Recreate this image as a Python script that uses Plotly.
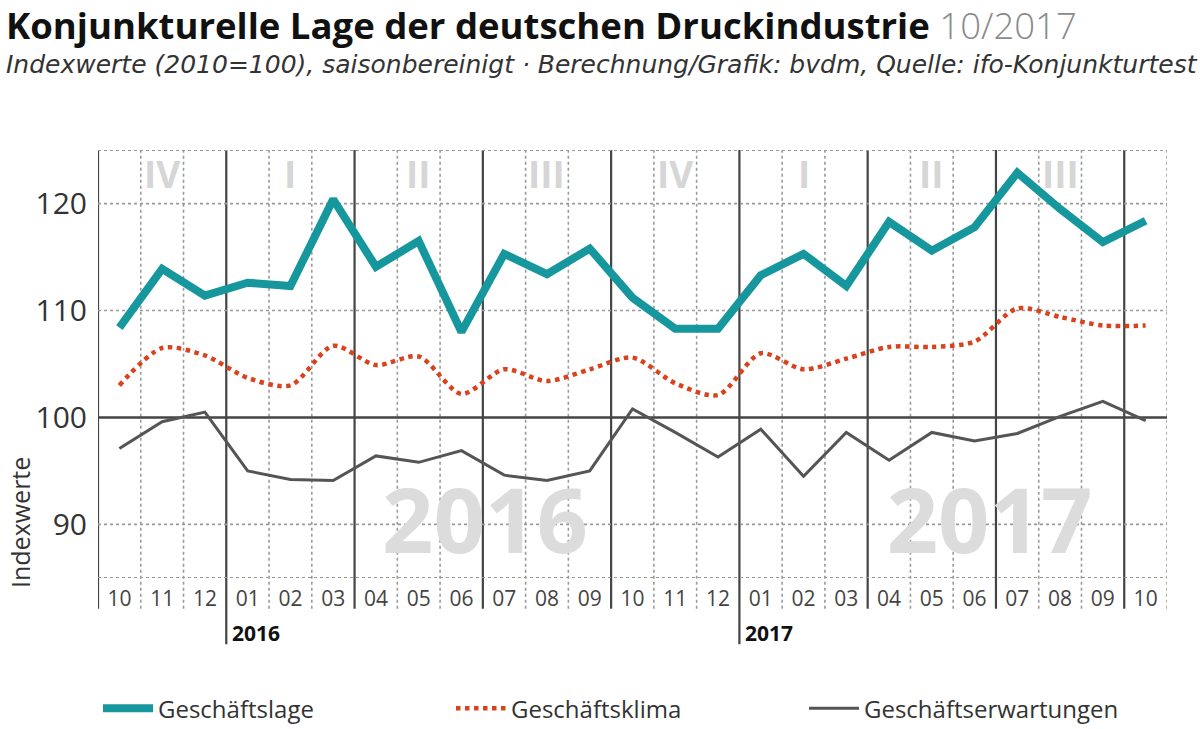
import plotly.graph_objects as go

# ---------------- data ----------------
months = ["10", "11", "12",
          "01", "02", "03", "04", "05", "06", "07", "08", "09", "10", "11", "12",
          "01", "02", "03", "04", "05", "06", "07", "08", "09", "10"]
years = ["2015", "2015", "2015"] + ["2016"] * 12 + ["2017"] * 10

geschaeftslage = [108.4, 113.9, 111.4, 112.6, 112.3, 120.4, 114.1, 116.5, 108.0,
                  115.3, 113.4, 115.8, 111.2, 108.3, 108.3, 113.3, 115.3, 112.3,
                  118.3, 115.6, 117.8, 122.9, 119.5, 116.4, 118.4]
geschaeftsklima = [103.0, 106.5, 105.8, 103.7, 103.0, 106.7, 104.9, 105.7, 102.2,
                   104.5, 103.4, 104.5, 105.6, 103.2, 102.1, 106.0, 104.5, 105.5,
                   106.6, 106.6, 107.1, 110.2, 109.4, 108.6, 108.6]
geschaeftserwartungen = [97.1, 99.6, 100.5, 95.0, 94.2, 94.1, 96.4, 95.8, 96.9,
                         94.6, 94.1, 95.0, 100.8, 98.6, 96.3, 98.9, 94.5, 98.6,
                         96.0, 98.6, 97.8, 98.5, 100.1, 101.5, 99.7]

quarter_labels = ["IV", "I", "II", "III", "IV", "I", "II", "III"]
quarter_centers = [1, 4, 7, 10, 13, 16, 19, 22]
watermark_years = ["2016", "2017"]
watermark_x = [8.55, 20.35]
watermark_y = 89.4

y_ticks = [90, 100, 110, 120]
y_grid = [85, 90, 110, 120, 125]
y_range = [85, 125]

FONT = "Open Sans"
SUBFONT = "DejaVu Sans"
TEAL = "#16979d"
RED = "#d8431d"
GRAY = "#555555"

x = list(range(len(months)))

fig = go.Figure()

# watermark years (drawn first, below data)
fig.add_trace(go.Scatter(
    x=watermark_x, y=[watermark_y] * len(watermark_x), mode="text",
    text=watermark_years, textposition="middle center",
    textfont=dict(family=FONT, size=90, color="#dcdcdc", weight="bold"),
    showlegend=False, hoverinfo="skip"))

fig.add_trace(go.Scatter(
    x=x, y=geschaeftslage, mode="lines", name="Geschäftslage",
    line=dict(color=TEAL, width=8)))
fig.add_trace(go.Scatter(
    x=x, y=geschaeftsklima, mode="lines", name="Geschäftsklima",
    line=dict(color=RED, width=4.5, dash="dot", shape="spline", smoothing=0.8)))
fig.add_trace(go.Scatter(
    x=x, y=geschaeftserwartungen, mode="lines", name="Geschäftserwartungen",
    line=dict(color=GRAY, width=3)))

shapes = []
n = len(months)
# vertical lines at month boundaries
for i in range(n + 1):
    b = i - 0.5
    start_month = months[i] if i < n else None
    if i == 0 or start_month in ("01", "04", "07", "10"):
        y0 = -0.155 if start_month == "01" else -0.072
        shapes.append(dict(type="line", xref="x", yref="paper", x0=b, x1=b,
                           y0=y0, y1=1, layer="below",
                           line=dict(color="#444444", width=2.2)))
    else:
        shapes.append(dict(type="line", xref="x", yref="paper", x0=b, x1=b,
                           y0=-0.072, y1=1, layer="below",
                           line=dict(color="#9a9a9a", width=1.6, dash="dot")))
# horizontal dotted gridlines
for v in y_grid:
    shapes.append(dict(type="line", xref="paper", yref="y", x0=0, x1=1, y0=v, y1=v,
                       layer="below", line=dict(color="#9a9a9a", width=1.6, dash="dot")))
# 100 reference line
shapes.append(dict(type="line", xref="paper", yref="y", x0=0, x1=1, y0=100, y1=100,
                   layer="below", line=dict(color="#444444", width=2.5)))

annotations = []
# quarter labels
for q, c in zip(quarter_labels, quarter_centers):
    annotations.append(dict(x=c, y=122.8, xref="x", yref="y", text=q, showarrow=False,
                            font=dict(family=FONT, size=37, color="#d6d6d6", weight="bold")))
# year labels under axis
for i, (m, yr) in enumerate(zip(months, years)):
    if m == "01":
        annotations.append(dict(x=i - 0.5, y=-0.128, xref="x", yref="paper",
                                text="<b>" + yr + "</b>", showarrow=False,
                                xanchor="left", yanchor="middle", xshift=4,
                                font=dict(family=FONT, size=21, color="#111111")))
# subtitle
annotations.append(dict(
    x=4, y=64, showarrow=False,
    text="<i>Indexwerte (2010=100), saisonbereinigt · Berechnung/Grafik: bvdm, Quelle: ifo-Konjunkturtest</i>",
    font=dict(family=SUBFONT, size=25, color="#333333"),
    xanchor="left", yanchor="middle"))
# y-axis title
annotations.append(dict(
    x=20, y=523, showarrow=False, text="Indexwerte", textangle=-90,
    font=dict(family=FONT, size=25, color="#333333"),
    xanchor="center", yanchor="middle"))

# convert pixel-based annotations (subtitle, y title) to paper coordinates
L, R, T, B = 98, 33, 150, 151
W, H = 1200, 729
pw, ph = W - L - R, H - T - B
for a in annotations[-2:]:
    a["x"] = (a["x"] - L) / pw
    a["y"] = (H - B - a["y"]) / ph
    a["xref"] = "paper"
    a["yref"] = "paper"

fig.update_layout(
    width=W, height=H,
    margin=dict(l=L, r=R, t=T, b=B, autoexpand=False),
    paper_bgcolor="white", plot_bgcolor="white",
    title=dict(
        text="<b>Konjunkturelle Lage der deutschen Druckindustrie</b> <span style='font-weight:300;color:#8a8a8a'>10/2017</span>",
        x=0.005, xref="container", xanchor="left",
        y=1 - 26.5 / H, yref="container", yanchor="middle",
        font=dict(family=FONT, size=36.5, color="#111111")),
    xaxis=dict(range=[-0.5, n - 0.5], tickmode="array", tickvals=x, ticktext=months,
               showgrid=False, zeroline=False, showline=False, ticks="",
               ticklabelstandoff=6,
               tickfont=dict(family=FONT, size=21, color="#444444")),
    yaxis=dict(range=[y_range[0] - 0.02, y_range[1] + 0.02], tickmode="array", tickvals=y_ticks,
               showgrid=False, zeroline=False, showline=False, ticks="",
               ticklabelstandoff=10,
               tickfont=dict(family=FONT, size=30, color="#333333")),
    shapes=shapes,
    annotations=annotations,
    legend=dict(orientation="h", x=0.0, xanchor="left", y=-0.305, yanchor="middle",
                entrywidth=288, entrywidthmode="pixels",
                font=dict(family=FONT, size=24, color="#333333"),
                itemwidth=50),
    showlegend=True,
)

fig.write_html("out.html", config={"displayModeBar": False},
               post_script="document.body.style.margin='0';")
